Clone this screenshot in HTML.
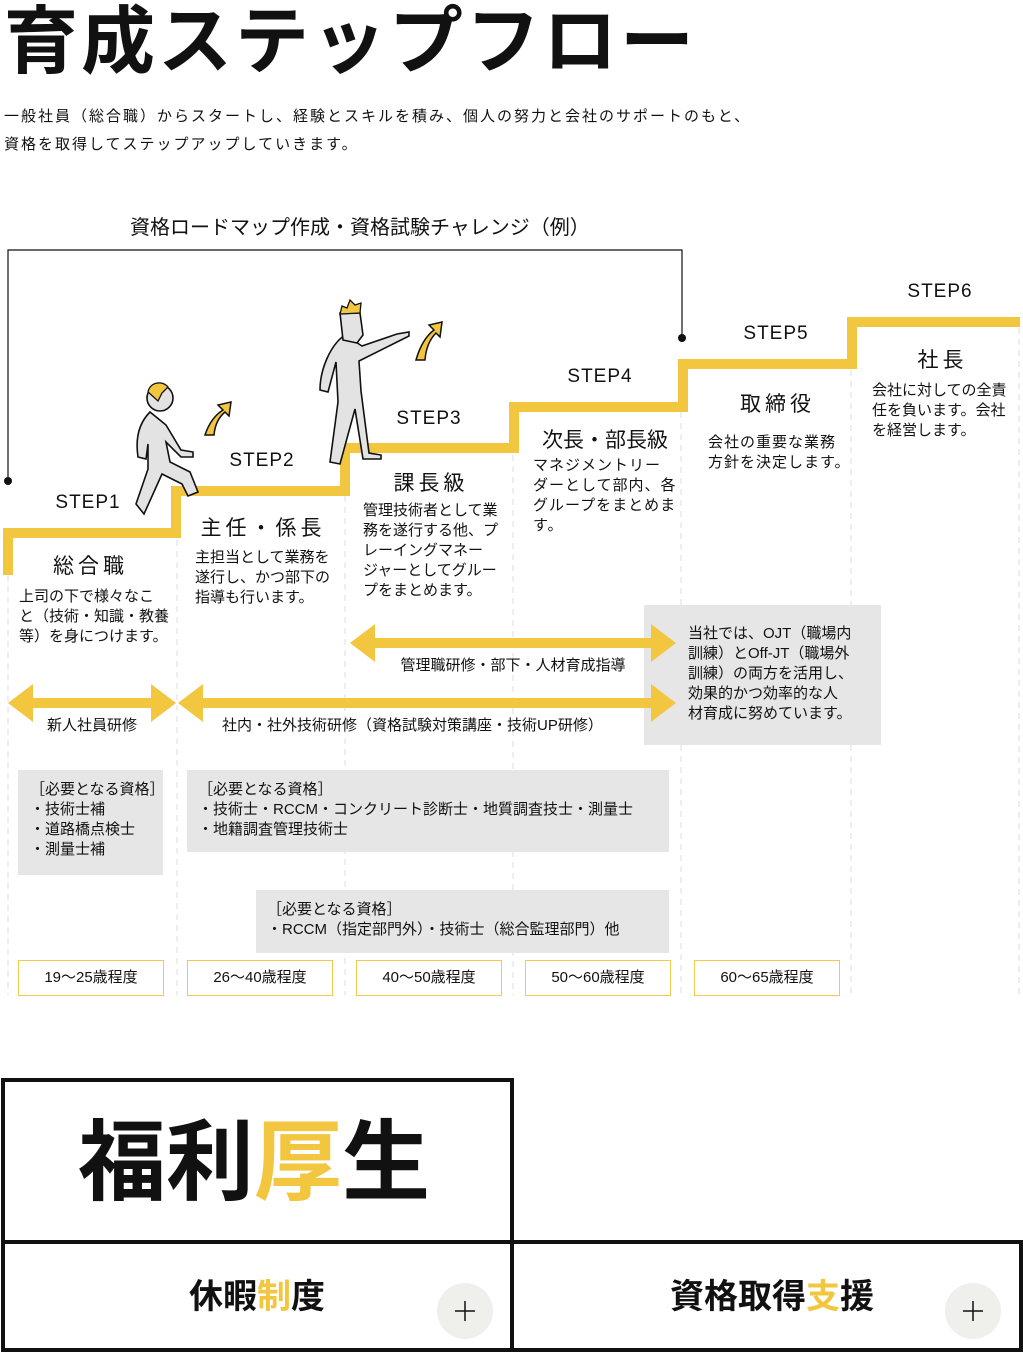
<!DOCTYPE html>
<html><head><meta charset="utf-8"><style>
*{margin:0;padding:0;box-sizing:border-box}
body{width:1023px;height:1354px;background:#fff;position:relative;overflow:hidden;font-family:"Liberation Sans","Noto Sans CJK JP",sans-serif;color:#111}
.a{position:absolute;white-space:nowrap}
.t{font-size:15px;line-height:20px}
.c{text-align:center}
.box{position:absolute;background:#e6e6e6}
.age{position:absolute;border:1px solid #f2c94c;height:36px;width:146px;font-size:15px;line-height:34px;text-align:center;top:960px}
.st{font-size:19px;letter-spacing:1px}
.h{font-size:21px;letter-spacing:4px}
</style></head><body>
<div class="a" style="left:4px;top:-3px;font-size:74px;font-weight:bold;letter-spacing:3px;line-height:90px">育成ステップフロー</div>
<div class="a t" style="left:4px;top:103px;letter-spacing:2px;line-height:28px">一般社員（総合職）からスタートし、経験とスキルを積み、個人の努力と会社のサポートのもと、<br>資格を取得してステップアップしていきます。</div>
<div class="a" style="left:130px;top:211px;font-size:20px">資格ロードマップ作成・資格試験チャレンジ（例）</div>

<div class="box" style="left:644px;top:605px;width:237px;height:140px"></div>

<svg class="a" style="left:0;top:0" width="1023" height="1354">
<g stroke="#ddd" stroke-dasharray="6,5" stroke-width="1">
<line x1="8" y1="575" x2="8" y2="995"/><line x1="177" y1="540" x2="177" y2="995"/><line x1="345" y1="496" x2="345" y2="995"/><line x1="513" y1="455" x2="513" y2="995"/><line x1="681" y1="412" x2="681" y2="605"/><line x1="681" y1="745" x2="681" y2="995"/><line x1="851" y1="370" x2="851" y2="605"/><line x1="851" y1="745" x2="851" y2="995"/><line x1="1019" y1="328" x2="1019" y2="995"/>
</g>
<g stroke="#111" stroke-width="1.2" fill="none"><path d="M8 481V250H682V338"/></g>
<circle cx="8" cy="481" r="4" fill="#111"/><circle cx="682" cy="338" r="4" fill="#111"/>
<path d="M8 575V533H176V491H345V448H514V407H683V364H852V322H1020" fill="none" stroke="#f2c63f" stroke-width="10"/>
<g fill="#f2c63f">
<path d="M350 643l25-19v14h276v-14l25 19-25 19v-14H375v14z"/>
<path d="M8 703l25-19v14h118v-14l25 19-25 19v-14H33v14z"/>
<path d="M178 703l25-19v14h448v-14l25 19-25 19v-14H203v14z"/>
<path d="M205 435c4-12 10-20 18-25l-5-5 13-3-2 14-4-4c-6 5-10 12-11 23z" stroke="#111" stroke-width="1.5"/>
<path d="M416 360c4-14 10-24 18-30l-5-5 13-3-2 15-4-4c-6 6-10 14-11 27z" stroke="#111" stroke-width="1.5"/>
</g>
<g fill="#e3e3e3" stroke="#111" stroke-width="1.6">
<path d="M150 412c-10 10-15 25-12 45l8 2 2-15 0 25-12 35 8 10 18-40 20 10 6 12 10-4-8-20-20-10-4-20 15 15 12 0v-5l-12-2-15-25z"/>
<circle cx="160" cy="398" r="13"/>
<path d="M345 335c-15 10-25 35-25 55l8 2 8-30 2 40-8 60 10 2 15-55 8 50 18 0v-4l-12-2-8-62-2-30 40-20 10-5v-4l-12 2-35 12z"/>
<path d="M340 313l20 0 3 22-6 8-14-3z"/>
</g>
<path d="M148 392c2-10 14-12 20-5l-6 6-4 8z" fill="#f2c63f" stroke="#111" stroke-width="1.3"/>
<path d="M340 314l2-8 5 2 3-8 5 5 6-2-1 10z" fill="#f2c63f" stroke="#111" stroke-width="1.3"/>
<rect x="3" y="1080" width="509" height="162" fill="none" stroke="#111" stroke-width="4"/>
<rect x="3" y="1242" width="509" height="108" fill="none" stroke="#111" stroke-width="4"/>
<rect x="512" y="1242" width="509" height="108" fill="none" stroke="#111" stroke-width="4"/>
<circle cx="465" cy="1311" r="28" fill="#efefec"/><circle cx="973" cy="1311" r="28" fill="#efefec"/>
<g stroke="#111" stroke-width="1.5"><path d="M455 1311h20M465 1301v20M963 1311h20M973 1301v20"/></g>
</svg>

<div class="a st c" style="left:38px;width:100px;top:492px">STEP1</div>
<div class="a st c" style="left:212px;width:100px;top:450px">STEP2</div>
<div class="a st c" style="left:379px;width:100px;top:408px">STEP3</div>
<div class="a st c" style="left:550px;width:100px;top:366px">STEP4</div>
<div class="a st c" style="left:726px;width:100px;top:323px">STEP5</div>
<div class="a st c" style="left:890px;width:100px;top:281px">STEP6</div>

<div class="a h c" style="left:18px;width:145px;top:550px">総合職</div>
<div class="a h c" style="left:188px;width:150px;top:512px">主任・係長</div>
<div class="a h c" style="left:356px;width:150px;top:467px">課長級</div>
<div class="a c" style="left:525px;width:160px;top:424px;font-size:21px">次長・部長級</div>
<div class="a h c" style="left:700px;width:155px;top:388px">取締役</div>
<div class="a h c" style="left:865px;width:155px;top:344px">社長</div>

<div class="a t" style="left:19px;top:587px">上司の下で様々なこ<br>と（技術・知識・教養<br>等）を身につけます。</div>
<div class="a t" style="left:195px;top:548px">主担当として業務を<br>遂行し、かつ部下の<br>指導も行います。</div>
<div class="a t" style="left:363px;top:501px">管理技術者として業<br>務を遂行する他、プ<br>レーイングマネー<br>ジャーとしてグルー<br>プをまとめます。</div>
<div class="a t" style="left:533px;top:456px;letter-spacing:1px">マネジメントリー<br>ダーとして部内、各<br>グループをまとめま<br>す。</div>
<div class="a t" style="left:708px;top:433px;letter-spacing:1px">会社の重要な業務<br>方針を決定します。</div>
<div class="a t" style="left:872px;top:381px">会社に対しての全責<br>任を負います。会社<br>を経営します。</div>

<div class="a t c" style="left:350px;width:326px;top:656px">管理職研修・部下・人材育成指導</div>
<div class="a t c" style="left:8px;width:168px;top:716px">新人社員研修</div>
<div class="a t" style="left:222px;top:716px">社内・社外技術研修（資格試験対策講座・技術UP研修）</div>

<div class="a t" style="left:688px;top:624px">当社では、OJT（職場内<br>訓練）とOff-JT（職場外<br>訓練）の両方を活用し、<br>効果的かつ効率的な人<br>材育成に努めています。</div>

<div class="box" style="left:18px;top:770px;width:145px;height:105px"></div>
<div class="a t" style="left:30px;top:780px">［必要となる資格］<br>・技術士補<br>・道路橋点検士<br>・測量士補</div>
<div class="box" style="left:187px;top:770px;width:482px;height:82px"></div>
<div class="a t" style="left:198px;top:780px">［必要となる資格］<br>・技術士・RCCM・コンクリート診断士・地質調査技士・測量士<br>・地籍調査管理技術士</div>
<div class="box" style="left:256px;top:890px;width:413px;height:63px"></div>
<div class="a t" style="left:267px;top:900px">［必要となる資格］<br>・RCCM（指定部門外）・技術士（総合監理部門）他</div>

<div class="age" style="left:18px">19〜25歳程度</div>
<div class="age" style="left:187px">26〜40歳程度</div>
<div class="age" style="left:356px">40〜50歳程度</div>
<div class="age" style="left:525px">50〜60歳程度</div>
<div class="age" style="left:694px">60〜65歳程度</div>

<div class="a" style="left:78px;top:1108px;font-size:88px;font-weight:bold;line-height:110px">福利<span style="color:#f2c63f">厚</span>生</div>
<div class="a c" style="left:130px;width:254px;top:1274px;font-size:34px;font-weight:bold;line-height:46px">休暇<span style="color:#f2c63f">制</span>度</div>
<div class="a c" style="left:620px;width:304px;top:1274px;font-size:34px;font-weight:bold;line-height:46px">資格取得<span style="color:#f2c63f">支</span>援</div>
</body></html>
